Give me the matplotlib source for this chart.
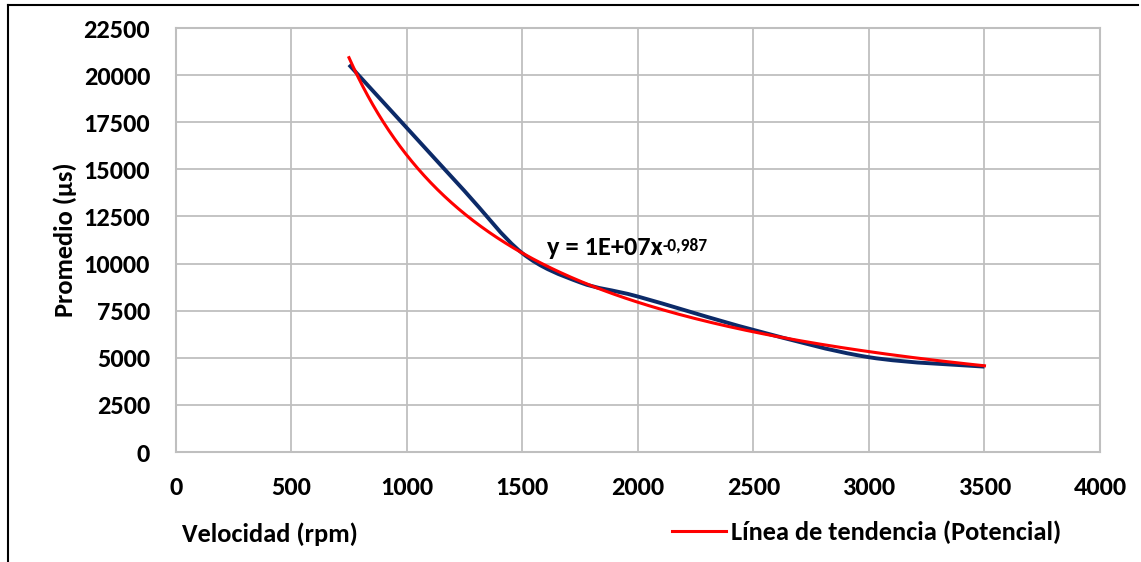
import numpy as np
import matplotlib
matplotlib.use("Agg")
import matplotlib.pyplot as plt
from matplotlib.path import Path
from matplotlib.patches import PathPatch
from matplotlib.lines import Line2D

rpm = [750, 1000, 1250, 1500, 1750, 2000, 2500, 3000, 3500]
promedio = [20550, 17200, 13850, 10550, 9000, 8250, 6480, 5030, 4530]

# Power trendline as shown on the chart (coefficient)
trend_coef = 1.44e7
trend_exp = -0.987

x_ticks = [0, 500, 1000, 1500, 2000, 2500, 3000, 3500, 4000]
y_ticks = [0, 2500, 5000, 7500, 10000, 12500, 15000, 17500, 20000, 22500]

x_label = "Velocidad (rpm)"
y_label = "Promedio (µs)"
trend_label = "Línea de tendencia (Potencial)"
eq_main = "y = 1E+07x"
eq_exp = "-0,987"

plt.rcParams["font.family"] = ["Carlito", "DejaVu Sans"]
plt.rcParams["font.weight"] = "bold"

W, H = 1141, 562
fig = plt.figure(figsize=(W / 100, H / 100), dpi=100)
ax = fig.add_axes([175.7 / W, 110 / H, 924.3 / W, 424 / H])


def smooth_path(xs, ys):
    """Excel-like smoothed line: cubic Bezier segments through the points."""
    pts = np.column_stack([xs, ys]).astype(float)
    n = len(pts)
    verts = [pts[0]]
    codes = [Path.MOVETO]
    for i in range(n - 1):
        p0 = pts[i - 1] if i > 0 else pts[i]
        p1 = pts[i]
        p2 = pts[i + 1]
        p3 = pts[i + 2] if i + 2 < n else pts[i + 1]
        verts += [p1 + (p2 - p0) / 6, p2 - (p3 - p1) / 6, p2]
        codes += [Path.CURVE4] * 3
    return Path(verts, codes)


ax.add_patch(PathPatch(smooth_path(rpm, promedio), fill=False,
                       edgecolor="#0C2A68", lw=2.8, capstyle="butt", zorder=3))

tx = np.geomspace(min(rpm), max(rpm), 300)
ax.plot(tx, trend_coef * tx ** trend_exp, color="#FF0000", lw=2.2, zorder=4)

ax.set_xlim(x_ticks[0], x_ticks[-1])
ax.set_ylim(y_ticks[0], y_ticks[-1])
ax.set_xticks(x_ticks)
ax.set_yticks(y_ticks)
ax.tick_params(length=0, labelsize=19)
ax.tick_params(axis="x", pad=17.5)
ax.tick_params(axis="y", pad=18.5)
ax.grid(True, color="#BFBFBF", lw=1.3)
ax.set_axisbelow(True)
for side in ax.spines.values():
    side.set_color("#BFBFBF")
    side.set_linewidth(1.5)

ax.set_ylabel(y_label, fontsize=19, fontweight="bold")
ax.yaxis.set_label_coords(-0.1073, 0.5)

fig.text(181.6 / W, (H - 534) / H, x_label, fontsize=19, fontweight="bold",
         ha="left", va="center")

eq = ax.text(1605, 10454, eq_main, fontsize=19, fontweight="bold", va="baseline")
ax.annotate(eq_exp, xy=(1, 1), xycoords=eq, xytext=(0, -1), textcoords="offset points",
            fontsize=12.5, fontweight="bold", ha="left", va="top")

fig.legend(handles=[Line2D([], [], color="#FF0000", lw=2.2)], labels=[trend_label],
           loc="center left", bbox_to_anchor=(672 / W, (H - 532) / H), frameon=False,
           fontsize=19, handlelength=2.05, handletextpad=0.2,
           borderpad=0, borderaxespad=0)

# outer chart border (left and top edges visible)
fig.add_artist(Line2D([8 / W, 8 / W], [0, (H - 5) / H], transform=fig.transFigure,
                      color="black", lw=1.5))
fig.add_artist(Line2D([8 / W, 1138 / W], [(H - 5) / H, (H - 5) / H],
                      transform=fig.transFigure, color="black", lw=1.5))

fig.savefig("out.png", dpi=100)
